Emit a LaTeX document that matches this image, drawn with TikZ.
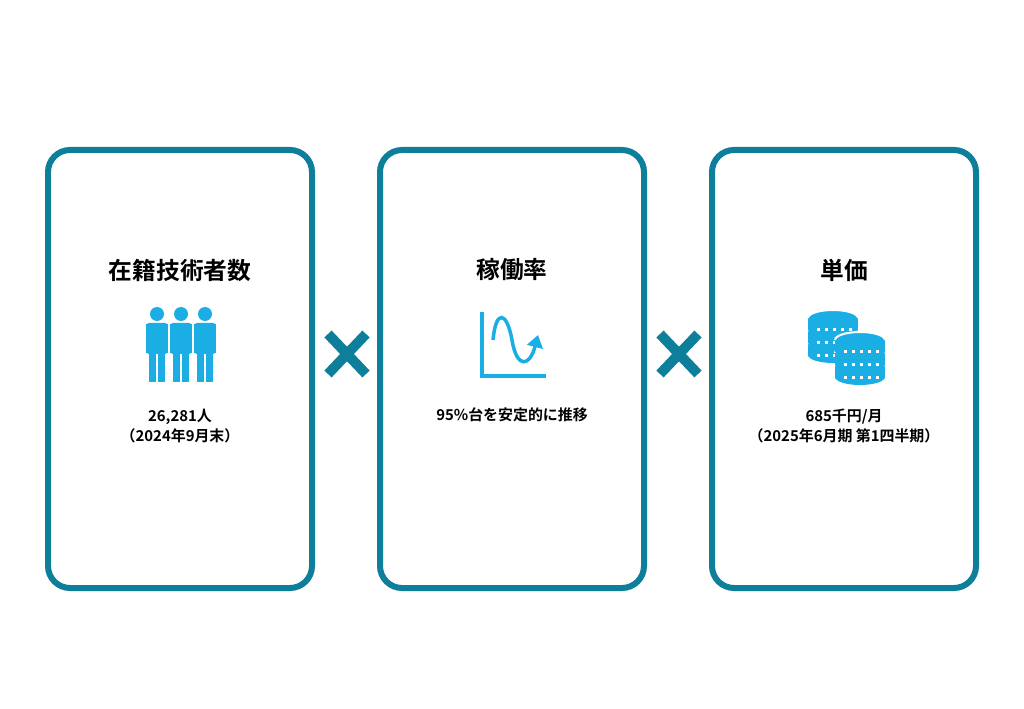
\documentclass[tikz,border=0pt]{standalone}
\usepackage{fontspec}
\setmainfont{Noto Sans CJK JP Bold}
\usetikzlibrary{arrows.meta}
\usetikzlibrary{calc}
\definecolor{frame}{HTML}{0E7F9A}
\definecolor{icon}{HTML}{1AAEE5}
\tikzset{
	card/.style={draw=frame,line width=0.12cm,rounded corners=0.44cm},
	title/.style={font=\fontsize{13.5}{16}\selectfont},
	note/.style={font=\fontsize{8.5}{11}\selectfont,align=center},
	times/.style={draw=frame,line width=0.2cm},
}
\newcommand{\drawcoin}[2]{
	\fill[icon] (#1-25,#2) rectangle (#1+25,#2+11);
	\fill[icon] (#1,#2+11) ellipse [x radius=25,y radius=8];
	\fill[icon] (#1,#2) ellipse [x radius=25,y radius=8];
	\draw[white,line width=0.04cm] (#1-25,#2) arc [start angle=180,end angle=360,x radius=25,y radius=8];
	\foreach \k in {-15,-7,...,17} \fill[white] (#1+\k-1.5,#2+10) rectangle ++(3,3);
}
\begin{document}
\begin{tikzpicture}[x=0.02cm,y=-0.02cm]
\useasboundingbox (0,0) rectangle (1024,709);
% cards
\foreach \i/\x in {1/48,2/380,3/712} {
	\draw[card] (\x,150) rectangle ++(264,438);
	\coordinate (c\i) at (\x+132,0);
}
\node[title] (t1) at ($(c1)+(0,270)$) {在籍技術者数};
\node[title] (t2) at ($(c2)+(0,270)$) {稼働率};
\node[title] (t3) at ($(c3)+(0,270)$) {単価};
\node[note] (n1) at ($(c1)+(0,426)$) {26,281人\\（2024年9月末）};
\node[note] (n2) at ($(c2)+(0,415)$) {95\%台を安定的に推移};
\node[note] (n3) at ($(c3)+(0,426)$) {685千円/月\\（2025年6月期 第1四半期）};
% multiply signs
\foreach \x in {347,679} {
	\draw[times] (\x-19,334) -- (\x+19,374);
	\draw[times] (\x+19,334) -- (\x-19,374);
}
% people
\foreach \px in {205,157,181} {
	\fill[icon] (\px,314) circle [radius=7];
	\fill[icon,rounded corners=0.08cm] (\px-12,323) rectangle (\px+12,354);
	\fill[icon] (\px-8,350) rectangle (\px-1,382);
	\fill[icon] (\px+1,350) rectangle (\px+8,382);
	\draw[white,line width=0.03cm] (\px-12,324) -- (\px-12,352) (\px+12,324) -- (\px+12,352);
}
% chart
\draw[icon,line width=0.09cm] (482,312) -- (482,376) -- (546,376);
\draw[icon,line width=0.07cm,-{Triangle[length=7,width=9]}] (493,340) .. controls (496,308) and (507,312) .. (512,340) .. controls (517,370) and (530,366) .. (538,335);
% coins
\drawcoin{833}{344}
\drawcoin{833}{331}
\drawcoin{833}{318}
\drawcoin{860}{366}
\drawcoin{860}{353}
\drawcoin{860}{340}
\end{tikzpicture}
\end{document}
